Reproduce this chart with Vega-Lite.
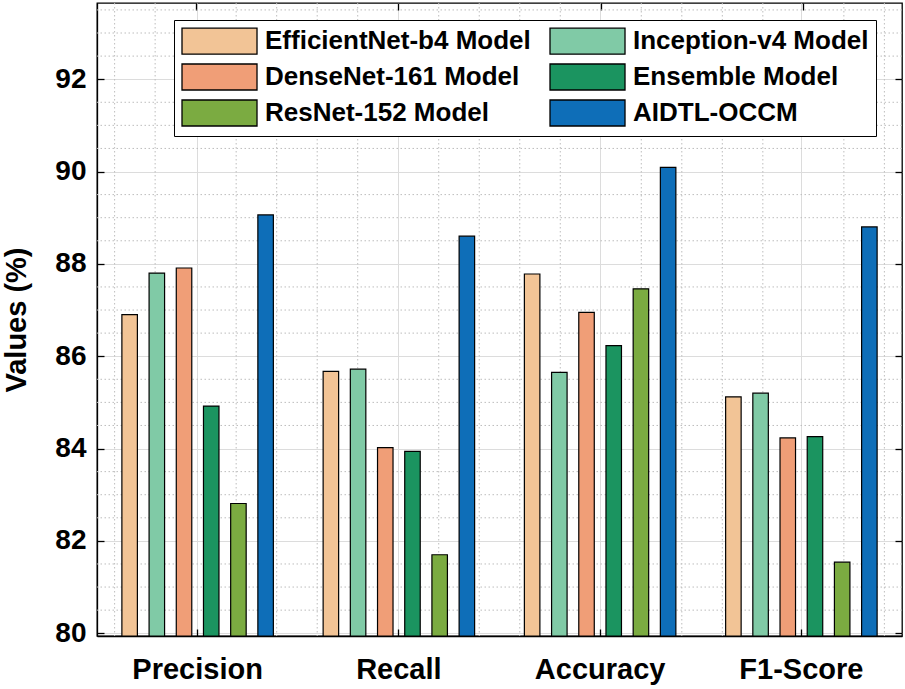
{
  "$schema": "https://vega.github.io/schema/vega-lite/v6.json",
  "width": 805,
  "height": 633,
  "autosize": {"type": "none"},
  "padding": {"left": 97, "top": 3, "right": 3, "bottom": 53},
  "background": "#ffffff",
  "config": {
    "view": {"stroke": "#000000", "strokeWidth": 1.3},
    "font": "Liberation Sans"
  },
  "datasets": {
    "bars": [
      {"metric": "Precision", "model": "EfficientNet-b4 Model", "value": 86.9},
      {"metric": "Precision", "model": "Inception-v4 Model", "value": 87.8},
      {"metric": "Precision", "model": "DenseNet-161 Model", "value": 87.91},
      {"metric": "Precision", "model": "Ensemble Model", "value": 84.92},
      {"metric": "Precision", "model": "ResNet-152 Model", "value": 82.81},
      {"metric": "Precision", "model": "AIDTL-OCCM", "value": 89.06},
      {"metric": "Recall", "model": "EfficientNet-b4 Model", "value": 85.67},
      {"metric": "Recall", "model": "Inception-v4 Model", "value": 85.72},
      {"metric": "Recall", "model": "DenseNet-161 Model", "value": 84.02},
      {"metric": "Recall", "model": "Ensemble Model", "value": 83.94},
      {"metric": "Recall", "model": "ResNet-152 Model", "value": 81.7},
      {"metric": "Recall", "model": "AIDTL-OCCM", "value": 88.6},
      {"metric": "Accuracy", "model": "EfficientNet-b4 Model", "value": 87.78},
      {"metric": "Accuracy", "model": "Inception-v4 Model", "value": 85.65},
      {"metric": "Accuracy", "model": "DenseNet-161 Model", "value": 86.95},
      {"metric": "Accuracy", "model": "Ensemble Model", "value": 86.23},
      {"metric": "Accuracy", "model": "ResNet-152 Model", "value": 87.46},
      {"metric": "Accuracy", "model": "AIDTL-OCCM", "value": 90.09},
      {"metric": "F1-Score", "model": "EfficientNet-b4 Model", "value": 85.12},
      {"metric": "F1-Score", "model": "Inception-v4 Model", "value": 85.2},
      {"metric": "F1-Score", "model": "DenseNet-161 Model", "value": 84.23},
      {"metric": "F1-Score", "model": "Ensemble Model", "value": 84.26},
      {"metric": "F1-Score", "model": "ResNet-152 Model", "value": 81.54},
      {"metric": "F1-Score", "model": "AIDTL-OCCM", "value": 88.8}
    ],
    "ygrid": [
      {"value": 80.5}, {"value": 81}, {"value": 81.5},
      {"value": 82.5}, {"value": 83}, {"value": 83.5},
      {"value": 84.5}, {"value": 85}, {"value": 85.5},
      {"value": 86.5}, {"value": 87}, {"value": 87.5},
      {"value": 88.5}, {"value": 89}, {"value": 89.5},
      {"value": 90.5}, {"value": 91}, {"value": 91.5},
      {"value": 92.5}, {"value": 93}, {"value": 93.5}
    ],
    "xgrid": [
      {"pos": 0.6}, {"pos": 0.8},
      {"pos": 1.2}, {"pos": 1.4}, {"pos": 1.6}, {"pos": 1.8},
      {"pos": 2.2}, {"pos": 2.4}, {"pos": 2.6}, {"pos": 2.8},
      {"pos": 3.2}, {"pos": 3.4}, {"pos": 3.6}, {"pos": 3.8},
      {"pos": 4.2}, {"pos": 4.4}
    ]
  },
  "layer": [
    {
      "data": {"name": "ygrid"},
      "mark": {"type": "rule", "stroke": "#bdbdbd", "strokeDash": [1.5, 2.5], "strokeWidth": 1},
      "encoding": {
        "y": {
          "field": "value",
          "type": "quantitative",
          "scale": {"domain": [79.94, 93.65], "nice": false, "zero": false, "clamp": true},
          "axis": {
            "orient": "right",
            "values": [80, 82, 84, 86, 88, 90, 92],
            "labels": false,
            "grid": false,
            "domain": false,
            "ticks": true,
            "tickSize": -7,
            "tickColor": "#000000",
            "tickWidth": 1.3,
            "title": null
          }
        }
      }
    },
    {
      "data": {"name": "xgrid"},
      "mark": {"type": "rule", "stroke": "#bdbdbd", "strokeDash": [1.5, 2.5], "strokeWidth": 1},
      "encoding": {
        "x": {
          "field": "pos",
          "type": "quantitative",
          "scale": {"domain": [0.513, 4.487], "nice": false, "zero": false},
          "axis": {
            "orient": "top",
            "values": [1, 2, 3, 4],
            "labels": false,
            "grid": false,
            "domain": false,
            "ticks": true,
            "tickSize": -7,
            "tickColor": "#000000",
            "tickWidth": 1.3,
            "title": null
          }
        }
      }
    },
    {
      "data": {"name": "bars"},
      "mark": {"type": "bar", "stroke": "#000000", "strokeWidth": 1.2},
      "encoding": {
        "x": {
          "field": "metric",
          "type": "nominal",
          "sort": ["Precision", "Recall", "Accuracy", "F1-Score"],
          "scale": {"paddingInner": 0, "paddingOuter": -0.0133},
          "axis": {
            "orient": "bottom",
            "title": null,
            "labelAngle": 0,
            "labelFont": "Liberation Sans",
            "labelFontSize": 29,
            "labelFontWeight": "bold",
            "labelColor": "#000000",
            "labelPadding": 26,
            "bandPosition": 0.5,
            "grid": true,
            "gridColor": "#dcdcdc",
            "gridWidth": 1,
            "ticks": true,
            "tickSize": -7,
            "tickColor": "#000000",
            "tickWidth": 1.3,
            "domainColor": "#000000",
            "domainWidth": 1.3
          }
        },
        "xOffset": {
          "field": "model",
          "type": "nominal",
          "sort": ["EfficientNet-b4 Model", "Inception-v4 Model", "DenseNet-161 Model", "Ensemble Model", "ResNet-152 Model", "AIDTL-OCCM"],
          "scale": {"paddingInner": 0.43, "paddingOuter": 0.915}
        },
        "y": {
          "field": "value",
          "type": "quantitative",
          "scale": {"domain": [79.94, 93.65], "nice": false, "zero": false, "clamp": true},
          "axis": {
            "orient": "left",
            "values": [80, 82, 84, 86, 88, 90, 92],
            "title": "Values (%)",
            "titleFont": "Liberation Sans",
            "titleFontSize": 29,
            "titleFontWeight": "bold",
            "titleColor": "#000000",
            "titlePadding": 23,
            "labelFont": "Liberation Sans",
            "labelFontSize": 28,
            "labelFontWeight": "bold",
            "labelColor": "#000000",
            "labelPadding": 18,
            "grid": true,
            "gridColor": "#dcdcdc",
            "gridWidth": 1,
            "ticks": true,
            "tickSize": -7,
            "tickColor": "#000000",
            "tickWidth": 1.3,
            "domainColor": "#000000",
            "domainWidth": 1.3
          }
        },
        "color": {
          "field": "model",
          "type": "nominal",
          "scale": {
            "domain": ["EfficientNet-b4 Model", "DenseNet-161 Model", "ResNet-152 Model", "Inception-v4 Model", "Ensemble Model", "AIDTL-OCCM"],
            "range": ["#f2c496", "#f09e77", "#7bab41", "#80caa6", "#1b9460", "#0e6eb8"]
          },
          "legend": {
            "orient": "none",
            "legendX": 77,
            "legendY": 17,
            "title": null,
            "columns": 2,
            "columnPadding": 16,
            "rowPadding": 4,
            "padding": 7,
            "strokeColor": "#000000",
            "fillColor": "#ffffff",
            "symbolType": "M-1,-1H4.77V1H-1Z",
            "symbolSize": 676,
            "symbolStrokeColor": "#000000",
            "symbolStrokeWidth": 1.3,
            "symbolOpacity": 1,
            "labelFont": "Liberation Sans",
            "labelFontSize": 26,
            "labelFontWeight": "bold",
            "labelColor": "#000000",
            "labelOffset": 56,
            "labelLimit": 400
          }
        }
      }
    }
  ],
  "resolve": {
    "scale": {"x": "independent"},
    "axis": {"x": "independent", "y": "independent"}
  }
}
